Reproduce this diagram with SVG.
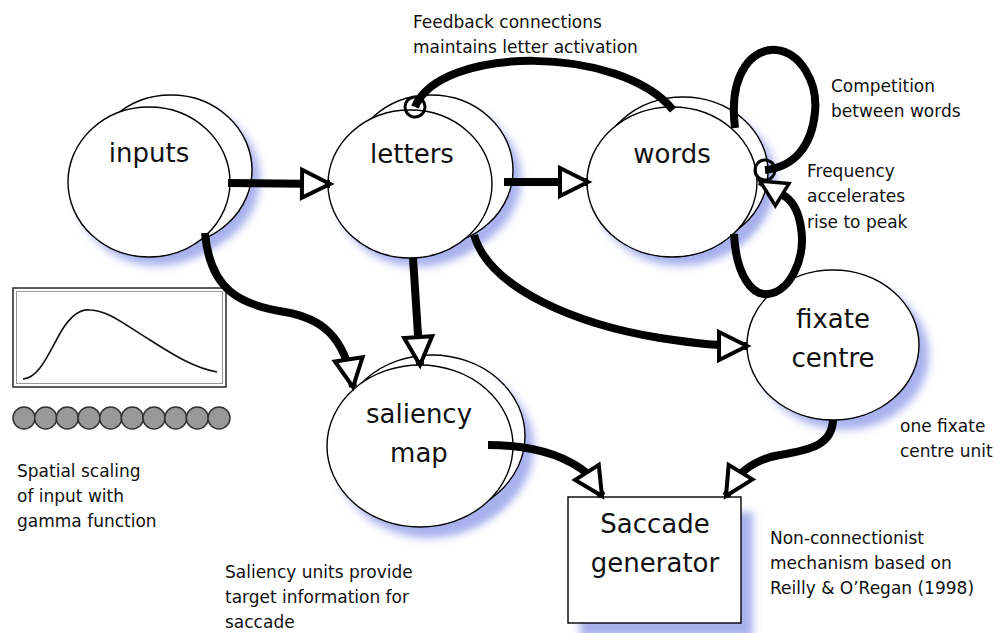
<svg xmlns="http://www.w3.org/2000/svg" width="999" height="633" viewBox="0 0 999 633">
  <style>
    .node-body { fill: #fff; stroke: #000; stroke-width: 1.4; }
    .shadow { fill: #a8b1ee; filter: url(#soft); }
    .node-label { font-family: "DejaVu Sans", "Liberation Sans", sans-serif; font-size: 26px; fill: #111; text-anchor: middle; }
    .note { font-family: "DejaVu Sans", "Liberation Sans", sans-serif; font-size: 17px; fill: #111; }
    .link { fill: none; stroke: #000; stroke-width: 8; stroke-linecap: butt; stroke-linejoin: round; }
  </style>
  <defs>
    <filter id="soft" x="-30%" y="-30%" width="160%" height="160%">
      <feGaussianBlur stdDeviation="4.5"/>
    </filter>
    <!-- open triangular arrowhead -->
    <marker id="head" markerUnits="userSpaceOnUse" markerWidth="40" markerHeight="40" refX="28" refY="0" orient="auto" overflow="visible">
      <path d="M0,-14 L28,0 L0,14 Z" fill="#fff" stroke="#000" stroke-width="4" stroke-linejoin="miter"/>
    </marker>
    <marker id="head-small" markerUnits="userSpaceOnUse" markerWidth="40" markerHeight="40" refX="26" refY="0" orient="auto" overflow="visible">
      <path d="M0,-13 L26,0 L0,13 Z" fill="#fff" stroke="#000" stroke-width="3.5" stroke-linejoin="miter"/>
    </marker>
    <!-- ring ending for modulating links -->
    <marker id="ring" markerUnits="userSpaceOnUse" markerWidth="30" markerHeight="30" refX="0" refY="0" orient="auto" overflow="visible">
      <circle cx="0" cy="0" r="10" fill="none" stroke="#000" stroke-width="3"/>
    </marker>
    <linearGradient id="fade-h" gradientUnits="userSpaceOnUse" x1="504" y1="0" x2="530" y2="0">
      <stop offset="0" stop-color="#c9cff4"/>
      <stop offset="1" stop-color="#000"/>
    </linearGradient>
    <linearGradient id="fade-v" gradientUnits="userSpaceOnUse" x1="0" y1="258" x2="0" y2="280">
      <stop offset="0" stop-color="#c9cff4"/>
      <stop offset="1" stop-color="#000"/>
    </linearGradient>
  </defs>

  <rect width="999" height="633" fill="#fff"/>

  <!-- Nodes -->
  <g id="node-inputs">
    <ellipse class="shadow" cx="179" cy="179" rx="81" ry="75"/>
    <ellipse class="shadow" cx="157" cy="191" rx="81" ry="75"/>
    <ellipse class="node-body" cx="171" cy="170" rx="81" ry="75"/>
    <ellipse class="node-body" cx="149" cy="182" rx="81" ry="75"/>
    <text class="node-label" x="149" y="162">inputs</text>
  </g>

  <g id="node-letters">
    <ellipse class="shadow" cx="439" cy="179" rx="82" ry="75"/>
    <ellipse class="shadow" cx="418" cy="193" rx="82" ry="74"/>
    <ellipse class="node-body" cx="431" cy="170" rx="82" ry="75"/>
    <ellipse class="node-body" cx="410" cy="184" rx="82" ry="74"/>
    <text class="node-label" x="412" y="163">letters</text>
  </g>

  <g id="node-words">
    <ellipse class="shadow" cx="691" cy="181" rx="85" ry="75"/>
    <ellipse class="shadow" cx="680" cy="191" rx="85" ry="75"/>
    <ellipse class="node-body" cx="683" cy="172" rx="85" ry="75"/>
    <ellipse class="node-body" cx="672" cy="182" rx="85" ry="75"/>
    <text class="node-label" x="672" y="163">words</text>
  </g>

  <g id="node-saliency">
    <ellipse class="shadow" cx="441" cy="447" rx="93" ry="81"/>
    <ellipse class="shadow" cx="429" cy="457" rx="93" ry="81"/>
    <ellipse class="node-body" cx="432" cy="436" rx="93" ry="81"/>
    <ellipse class="node-body" cx="420" cy="446" rx="93" ry="81"/>
    <text class="node-label" x="419" y="423">saliency</text>
    <text class="node-label" x="419" y="462">map</text>
  </g>

  <g id="node-fixate">
    <ellipse class="shadow" cx="843" cy="355" rx="86" ry="75"/>
    <ellipse class="node-body" cx="833" cy="345" rx="86" ry="75"/>
    <text class="node-label" x="833" y="328">fixate</text>
    <text class="node-label" x="833" y="367">centre</text>
  </g>

  <g id="node-saccade">
    <rect class="shadow" x="580" y="512" width="173" height="126"/>
    <rect class="node-body" x="568" y="497" width="173" height="126" stroke-width="2"/>
    <text class="node-label" x="655" y="533">Saccade</text>
    <text class="node-label" x="655" y="572">generator</text>
  </g>

  <!-- Input scaling: gamma curve and input units -->
  <g id="input-scaling">
    <rect x="13" y="288" width="213" height="99" fill="#fff" stroke="#333" stroke-width="1.6"/>
    <rect x="16.5" y="291.5" width="206" height="92" fill="none" stroke="#999" stroke-width="1"/>
    <path d="M23,379 C40,378 50,350 62,330 C72,314 82,309 90,310 C110,311 125,325 150,340 C175,356 195,368 217,372" fill="none" stroke="#111" stroke-width="1.6"/>
    <g fill="#999" stroke="#333" stroke-width="1.5">
      <circle cx="24" cy="418" r="11"/>
      <circle cx="45.7" cy="418" r="11"/>
      <circle cx="67.3" cy="418" r="11"/>
      <circle cx="89" cy="418" r="11"/>
      <circle cx="110.7" cy="418" r="11"/>
      <circle cx="132.3" cy="418" r="11"/>
      <circle cx="154" cy="418" r="11"/>
      <circle cx="175.7" cy="418" r="11"/>
      <circle cx="197.3" cy="418" r="11"/>
      <circle cx="219" cy="418" r="11"/>
    </g>
  </g>

  <!-- Connectors -->
  <g id="connectors">
    <path class="link" d="M228,183 L330,184" marker-end="url(#head)"/>
    <path class="link" d="M504,182 L588,182" stroke="url(#fade-h)" marker-end="url(#head)"/>
    <path class="link" d="M673,110 C620,45 440,45 415,107" marker-end="url(#ring)"/>
    <path class="link" d="M735,128 C728,70 755,48 776,50 C800,52 818,82 815,112 C812,145 795,167 765,170" marker-end="url(#ring)"/>
    <path class="link" d="M734,234 C736,275 752,296 768,294 C790,292 806,258 801,228 C799,214 794,203 786,197 L760,181" marker-end="url(#head-small)"/>
    <path class="link" d="M205,233 C210,290 240,305 285,312 C320,318 345,335 353,387" marker-end="url(#head)"/>
    <path class="link" d="M413,258 L420,365" stroke="url(#fade-v)" marker-end="url(#head)"/>
    <path class="link" d="M474,235 C490,290 580,325 660,338 C700,344 720,346 747,346" marker-end="url(#head)"/>
    <path class="link" d="M488,445 C530,445 565,455 588,474 L602,496" marker-end="url(#head)"/>
    <path class="link" d="M833,420 C832,445 810,450 780,455 C760,458 745,468 737,478 L726,496" marker-end="url(#head)"/>
  </g>

  <!-- Annotations -->
  <g id="notes">
    <text class="note" x="413" y="28">Feedback connections</text>
    <text class="note" x="413" y="53">maintains letter activation</text>
    <text class="note" x="831" y="92">Competition</text>
    <text class="note" x="831" y="117">between words</text>
    <text class="note" x="807" y="177">Frequency</text>
    <text class="note" x="807" y="202">accelerates</text>
    <text class="note" x="807" y="228">rise to peak</text>
    <text class="note" x="900" y="432">one fixate</text>
    <text class="note" x="900" y="457">centre unit</text>
    <text class="note" x="770" y="544">Non-connectionist</text>
    <text class="note" x="770" y="569">mechanism based on</text>
    <text class="note" x="770" y="594">Reilly &amp; O’Regan (1998)</text>
    <text class="note" x="17" y="477">Spatial scaling</text>
    <text class="note" x="17" y="502">of input with</text>
    <text class="note" x="17" y="527">gamma function</text>
    <text class="note" x="225" y="578">Saliency units provide</text>
    <text class="note" x="225" y="603">target information for</text>
    <text class="note" x="225" y="628">saccade</text>
  </g>
</svg>
